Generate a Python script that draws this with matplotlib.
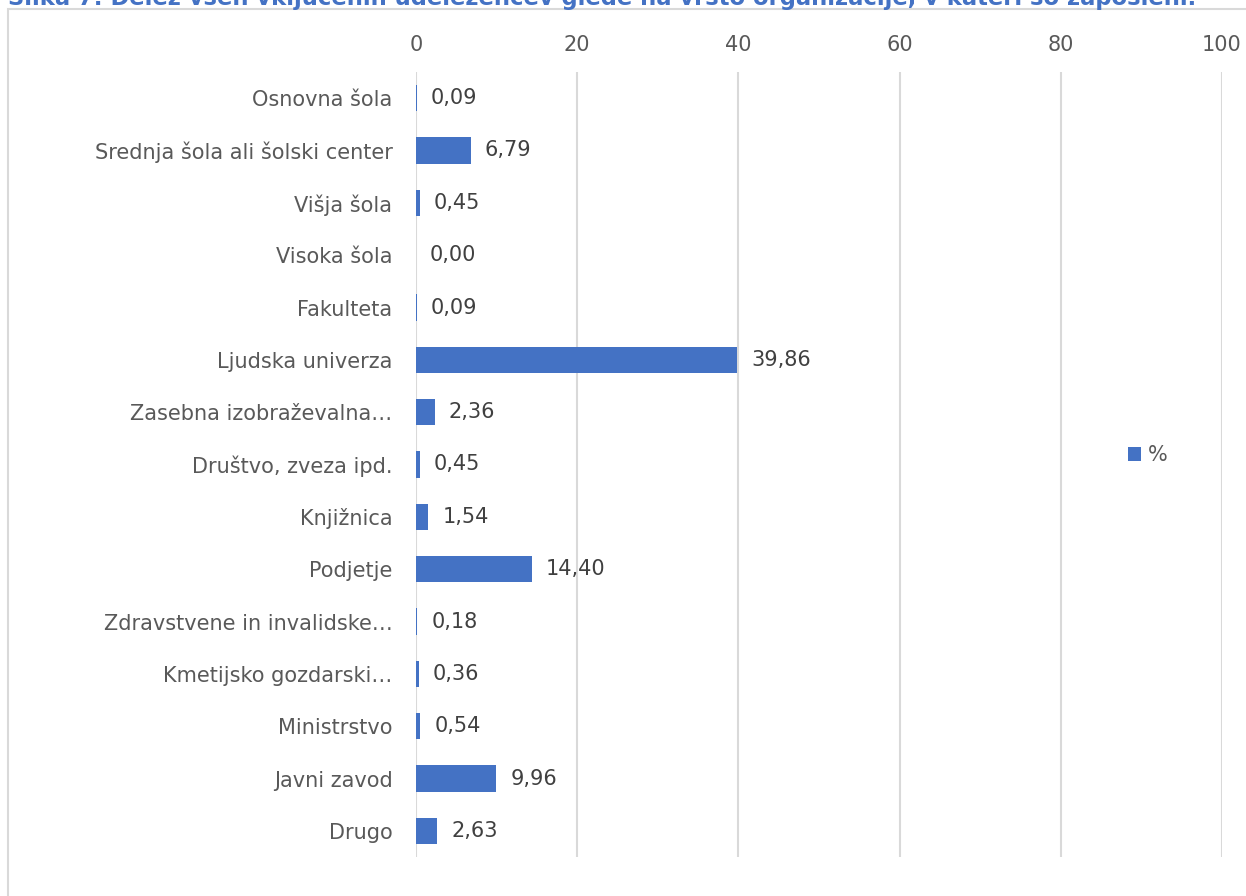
import matplotlib.pyplot as plt
from matplotlib.patches import Rectangle

# data
categories = ['Osnovna šola', 'Srednja šola ali šolski center', 'Višja šola', 'Visoka šola',
              'Fakulteta', 'Ljudska univerza', 'Zasebna izobraževalna…', 'Društvo, zveza ipd.',
              'Knjižnica', 'Podjetje', 'Zdravstvene in invalidske…', 'Kmetijsko gozdarski…',
              'Ministrstvo', 'Javni zavod', 'Drugo']
values = [0.09, 6.79, 0.45, 0.00, 0.09, 39.86, 2.36, 0.45, 1.54, 14.40, 0.18, 0.36, 0.54, 9.96, 2.63]
xticks = [0, 20, 40, 60, 80, 100]
title = 'Slika 7: Delež vseh vključenih udeležencev glede na vrsto organizacije, v kateri so zaposleni.'

BLUE = '#4472C4'
GRID = '#D9D9D9'
plt.rcParams['font.family'] = ['DejaVu Sans']
FS = 15

fig = plt.figure(figsize=(12.46, 8.96), dpi=100)
ax = fig.add_axes([416/1246, 1-857/896, 806/1246, 785/896])

ypos = list(range(len(categories)))
bars = ax.barh(ypos, values, height=0.5, color=BLUE, label='%')
ax.set_ylim(len(categories)-0.5, -0.5)
ax.set_xlim(0, 100)
ax.set_yticks(ypos)
ax.set_yticklabels(categories, fontsize=FS, color='#595959')
ax.set_xticks(xticks)
ax.set_xticklabels([str(t) for t in xticks], fontsize=FS, color='#595959')
ax.xaxis.tick_top()
ax.tick_params(axis='x', length=0, pad=12)
ax.tick_params(axis='y', length=0, pad=17)
ax.grid(axis='x', color=GRID, linewidth=1.5)
ax.set_axisbelow(True)
for s in ax.spines.values():
    s.set_visible(False)

for b, v in zip(bars, values):
    ax.annotate(f'{v:.2f}'.replace('.', ','), (b.get_width(), b.get_y()+b.get_height()/2),
                xytext=(10, 0), textcoords='offset points', va='center', ha='left',
                fontsize=FS, color='#404040')

ax.legend(loc='center left', bbox_to_anchor=(0.86, 0.512), frameon=False,
          fontsize=FS, handlelength=0.65, handleheight=0.65, handletextpad=0.3,
          labelcolor='#595959')

# chart frame
fig.patches.append(Rectangle((8/1246, -0.1), 1.2, 1-9/896+0.1, transform=fig.transFigure,
                             fill=False, edgecolor=GRID, linewidth=1.5))
fig.text(8/1246, 1-5/896, title, ha='left', va='baseline', fontsize=16.3, fontweight='bold', color=BLUE)

fig.savefig('out.png', dpi=100)
